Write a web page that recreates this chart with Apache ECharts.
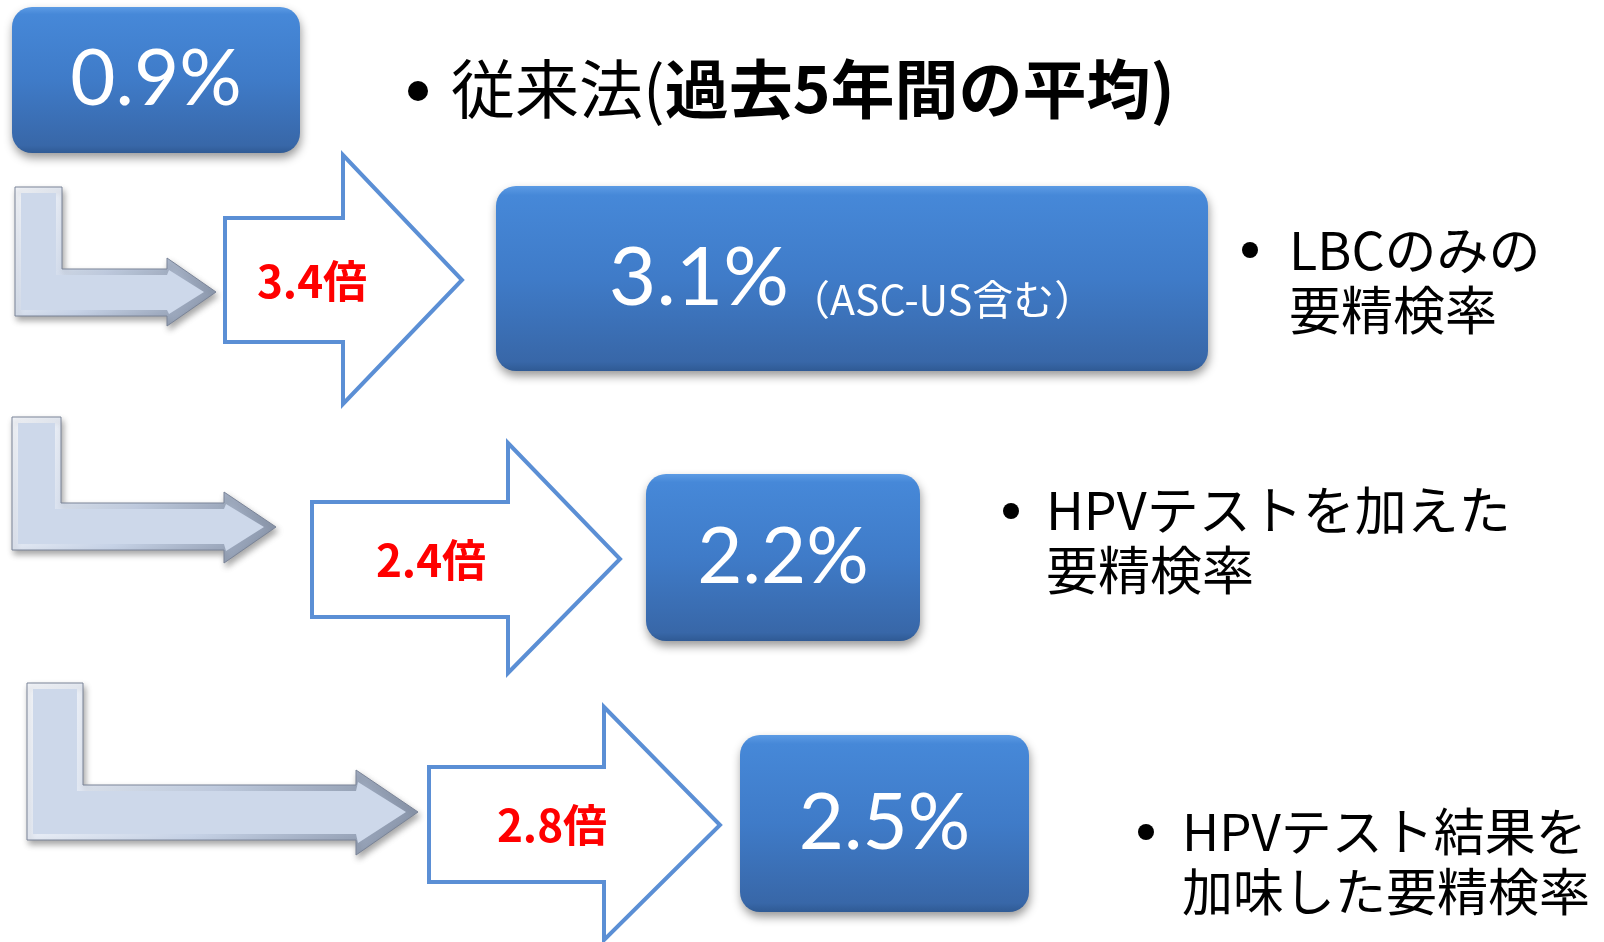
<!DOCTYPE html>
<html>
<head>
<meta charset="utf-8">
<script src="https://cdn.jsdelivr.net/npm/echarts@6/dist/echarts.min.js"></script>
<style>
html,body{margin:0;padding:0;background:#fff;}
#main{width:1604px;height:942px;}
</style>
</head>
<body>
<div id="main"></div>
<script>
// ---- data ----
const rates = ['0.9%', '3.1%', '2.2%', '2.5%'];
const rateNotes = ['', '（ASC-US含む）', '', ''];
const ratios = ['3.4倍', '2.4倍', '2.8倍'];
const methodLines = [
  ['従来法(過去5年間の平均)'],
  ['LBCのみの', '要精検率'],
  ['HPVテストを加えた', '要精検率'],
  ['HPVテスト結果を', '加味した要精検率']
];
const methodBold = ['過去5年間の平均)', '', '', ''];

// ---- layout (positions / sizes) ----
const boxRects = [[12, 7, 288, 146], [496, 186, 712, 185], [646, 474, 274, 167], [740, 735, 289, 177]];
const rateFont = [78, 82, 78, 78];
// L arrows: x0, x1, top, yT, yB, xs, yh1, yh2, xt, yc
const lArrows = [
  [15, 62, 187, 269, 316, 167, 258, 326, 216, 292],
  [12, 61, 417, 503, 550, 224, 492, 563, 276, 527],
  [27, 83, 683, 785, 840, 356, 770, 855, 418, 812]
];
// outline arrows: left, bodyTop, bodyBottom, headX, headTop, headBottom, tipX, tipY
const bArrows = [
  [225, 218, 342, 343, 155, 404, 462, 280],
  [312, 502, 617, 508, 443, 673, 620, 559],
  [429, 767, 882, 604, 707, 940, 720, 825]
];
const ratioPos = [[312, 281], [431, 560], [552, 825]];
const bulletPos = [[418, 91], [1250, 250], [1011, 511], [1146, 832]];
const bulletR = [10, 8, 8, 8];
const textPos = [[451, 89], [1289, 250], [1046, 510], [1182, 832]];
const textFont = [64, 52, 52, 51];
const LINE_H = 60;

const els = [];

// L-shaped bent arrows
lArrows.forEach(a => {
  const [x0, x1, top, yT, yB, xs, yh1, yh2, xt, yc] = a;
  const outer = [[x0, top], [x1, top], [x1, yT], [xs, yT], [xs, yh1], [xt, yc], [xs, yh2], [xs, yB], [x0, yB]];
  const d = 6;
  const inner = [[x0 + d, top + d], [x1 - d, top + d], [x1 - d, yT + d], [xs, yT + d], [xs + 2, yh1 + 2 * d], [xt - 2 * d, yc], [xs + 2, yh2 - 2 * d], [xs, yB - d], [x0 + d, yB - d]];
  els.push({
    type: 'polygon', shape: { points: outer },
    style: {
      fill: new echarts.graphic.LinearGradient(0, 0, 1, 1, [
        { offset: 0, color: '#F6F8FC' }, { offset: 0.5, color: '#C6D2E6' }, { offset: 1, color: '#8591A6' }
      ]),
      stroke: '#7A8498', lineWidth: 1,
      shadowBlur: 6, shadowOffsetX: 2, shadowOffsetY: 4, shadowColor: 'rgba(0,0,0,0.35)'
    }
  });
  els.push({
    type: 'polygon', shape: { points: inner },
    style: { fill: '#CDD8EA' }
  });
});

// outline arrows with ratio text
bArrows.forEach((a, i) => {
  const [l, bt, bb, hx, ht, hb, tx, ty] = a;
  els.push({
    type: 'polygon',
    shape: { points: [[l, bt], [hx, bt], [hx, ht], [tx, ty], [hx, hb], [hx, bb], [l, bb]] },
    style: { fill: '#FFFFFF', stroke: '#5B8FD5', lineWidth: 4, lineJoin: 'miter' }
  });
  els.push({
    type: 'text', x: ratioPos[i][0], y: ratioPos[i][1],
    style: {
      text: ratios[i], fill: '#FF0000', fontSize: 44, fontWeight: 'bold',
      fontFamily: '"Noto Sans CJK JP", "Noto Sans", sans-serif',
      align: 'center', verticalAlign: 'middle'
    }
  });
});

// blue rate boxes
boxRects.forEach((r, i) => {
  const [x, y, w, h] = r;
  els.push({
    type: 'rect', shape: { x, y, width: w, height: h, r: 20 },
    style: {
      fill: new echarts.graphic.LinearGradient(0, 0, 0, 1, [
        { offset: 0, color: '#5C9BE4' }, { offset: 0.05, color: '#4688D8' },
        { offset: 0.5, color: '#3F7BC8' }, { offset: 0.95, color: '#3867A8' }, { offset: 1, color: '#2F5A94' }
      ]),
      shadowBlur: 10, shadowOffsetX: 1, shadowOffsetY: 5, shadowColor: 'rgba(0,0,0,0.4)'
    }
  });
  const txt = rateNotes[i] ? '{a|' + rates[i] + '}{b|' + rateNotes[i] + '}' : '{a|' + rates[i] + '}';
  els.push({
    type: 'text', x: x + w / 2, y: y + h / 2,
    style: {
      text: txt, align: 'center', verticalAlign: 'middle',
      rich: {
        a: { fontSize: rateFont[i], fontFamily: 'Lato, "Noto Sans", sans-serif', fill: '#FFFFFF', verticalAlign: 'bottom', lineHeight: rateFont[i] },
        b: { fontSize: 41, fontFamily: '"Noto Sans CJK JP", sans-serif', fill: '#FFFFFF', verticalAlign: 'bottom', lineHeight: 60 }
      }
    }
  });
});

// bullets and description text
methodLines.forEach((lines, i) => {
  els.push({ type: 'circle', shape: { cx: bulletPos[i][0], cy: bulletPos[i][1], r: bulletR[i] }, style: { fill: '#000' } });
  const bold = methodBold[i];
  const texts = lines.map(line => {
    if (bold && line.indexOf(bold) >= 0) {
      const k = line.indexOf(bold);
      return '{n|' + line.slice(0, k) + '}{b|' + bold + '}';
    }
    return '{n|' + line + '}';
  });
  const fs = textFont[i];
  const lh = i === 0 ? 70 : LINE_H;
  els.push({
    type: 'text', x: textPos[i][0], y: textPos[i][1] - lh / 2,
    style: {
      text: texts.join('\n'), align: 'left', verticalAlign: 'top',
      rich: {
        n: { fontSize: fs, fontFamily: '"Noto Sans CJK JP", sans-serif', fill: '#000', lineHeight: lh },
        b: { fontSize: fs, fontFamily: '"Noto Sans CJK JP", sans-serif', fontWeight: 'bold', fill: '#000', lineHeight: lh }
      }
    }
  });
});

const chart = echarts.init(document.getElementById('main'), null, { renderer: 'canvas' });
chart.setOption({
  backgroundColor: '#FFFFFF',
  animation: false,
  graphic: { elements: els }
});
</script>
</body>
</html>
